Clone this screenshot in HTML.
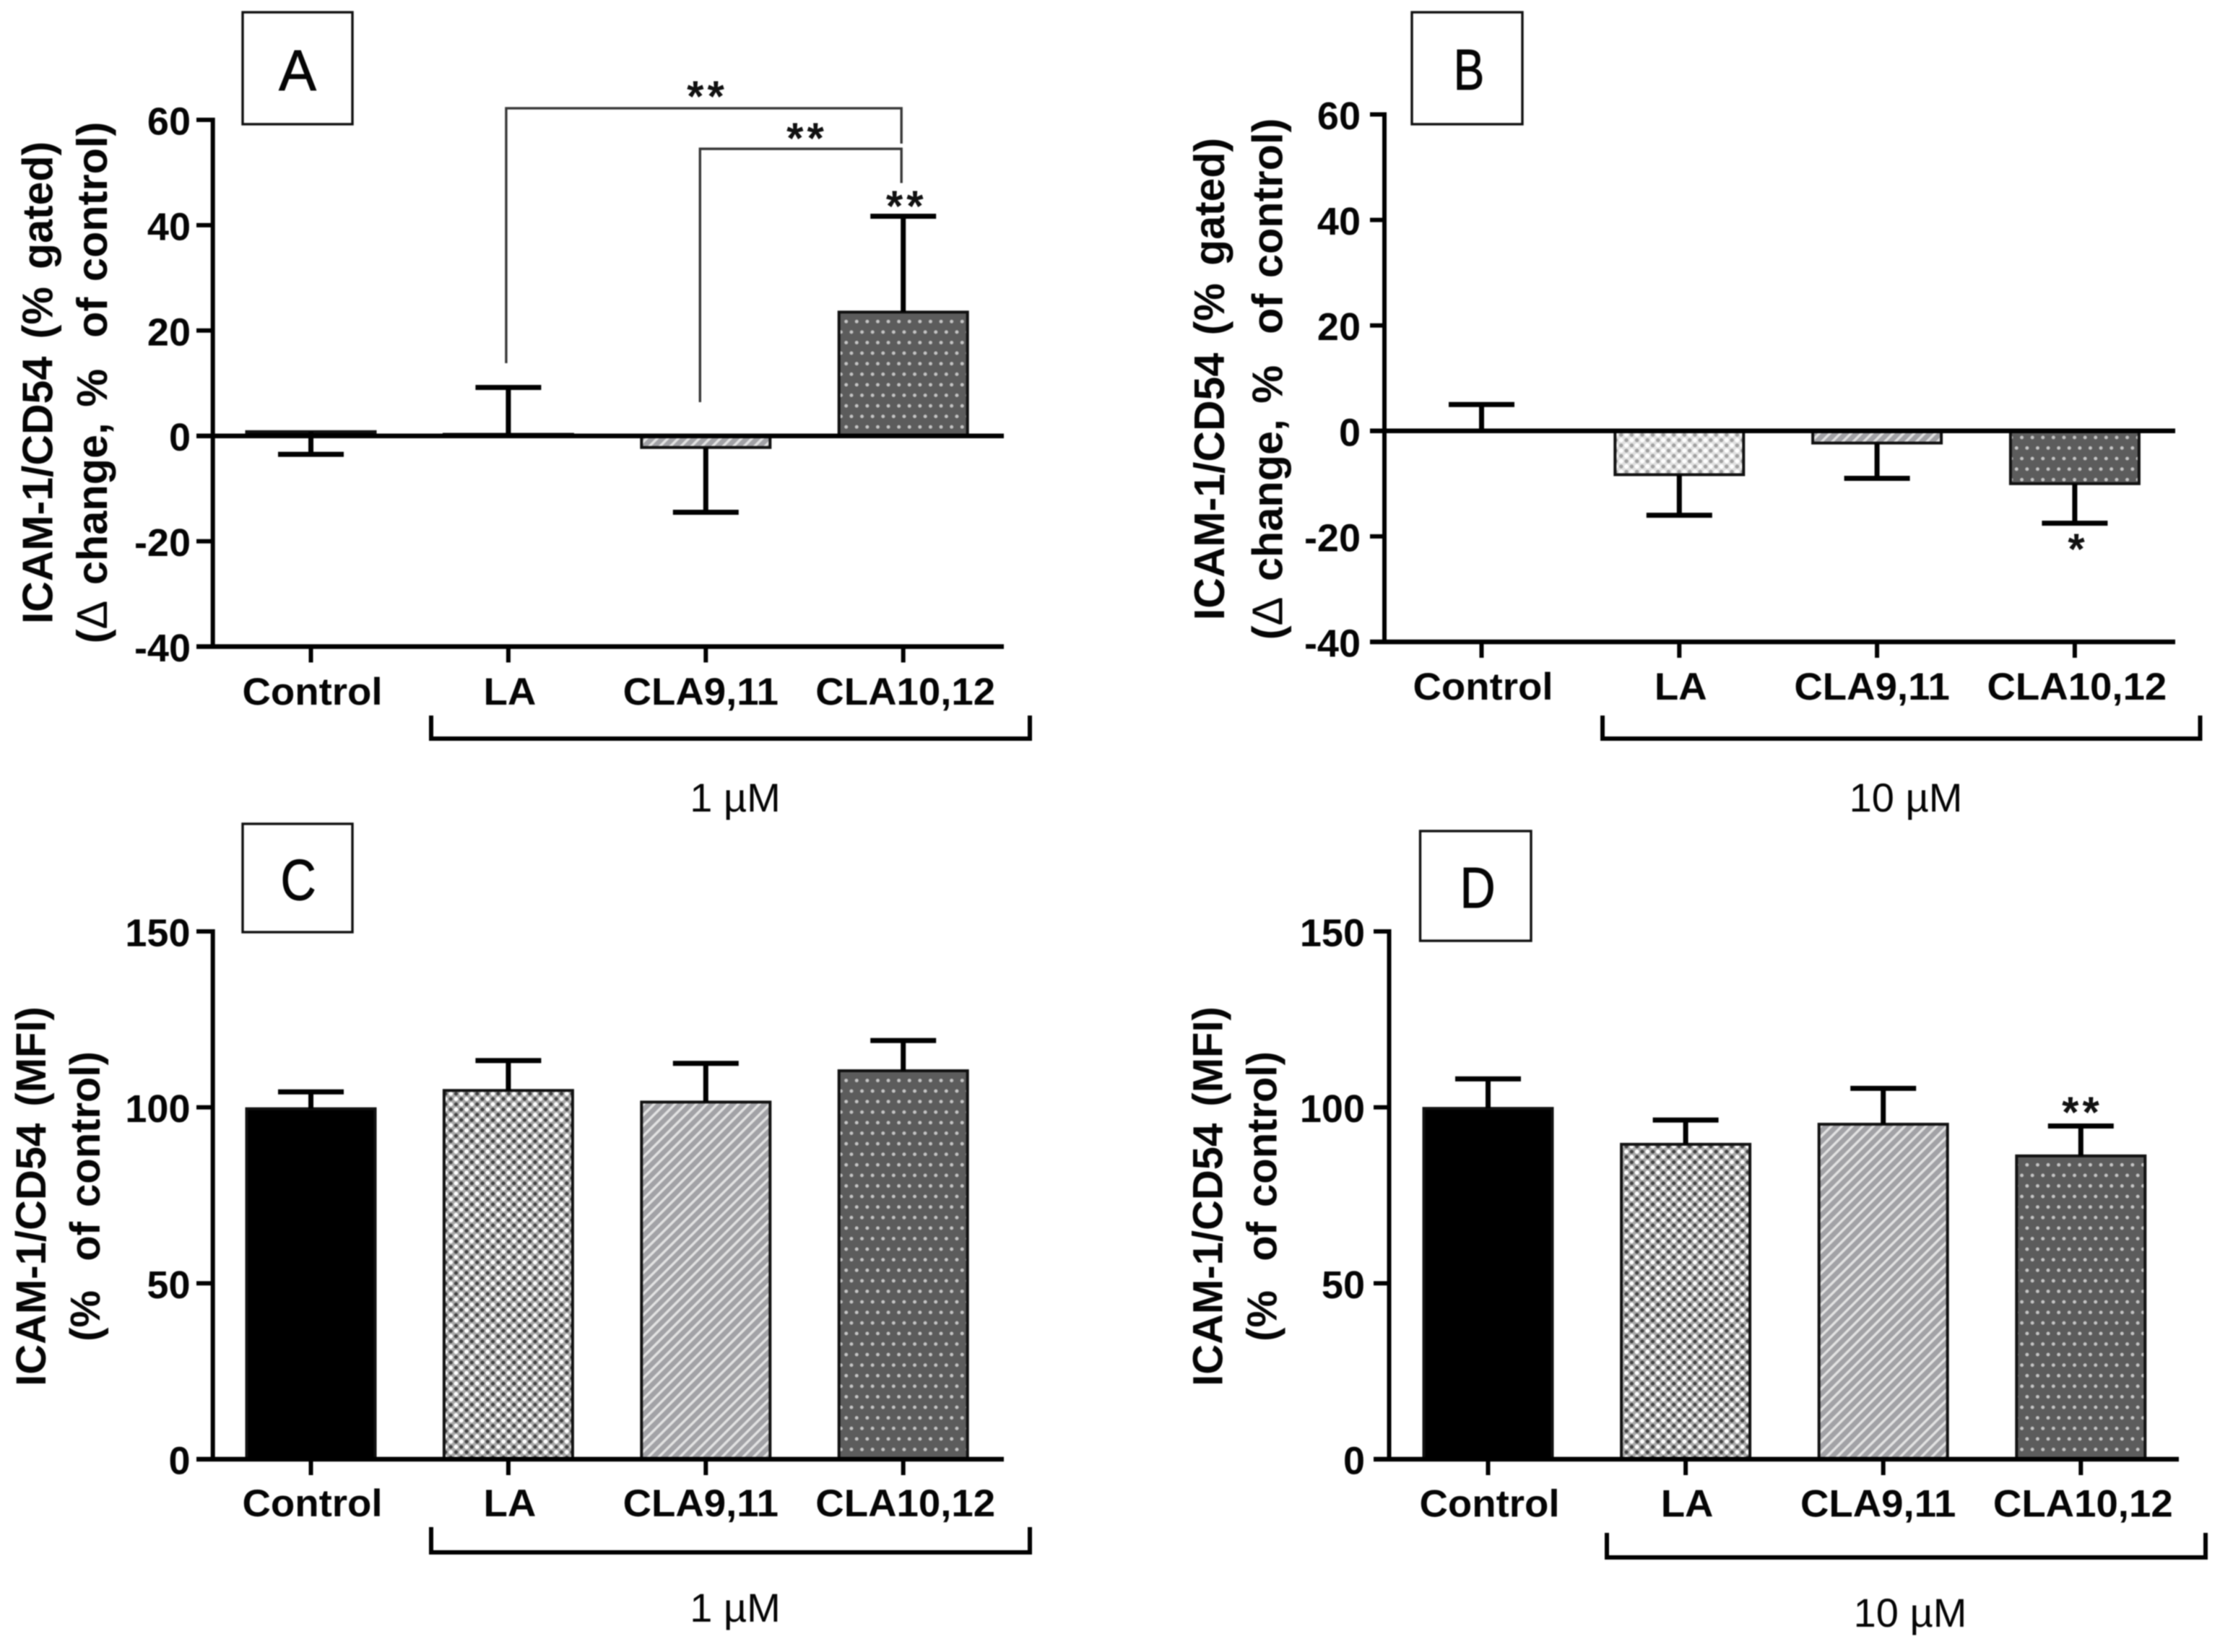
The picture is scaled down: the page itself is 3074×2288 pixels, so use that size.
<!DOCTYPE html>
<html lang="en">
<head>
<meta charset="utf-8">
<title>ICAM-1/CD54 bar charts</title>
<style>
  html, body { margin: 0; padding: 0; background: #fff; width: 3074px; height: 2288px; overflow: hidden; }
  svg { display: block; font-family: "Liberation Sans", Arial, sans-serif; }
  #content { filter: blur(0.9px); }
</style>
</head>
<body>
<svg id="figure" xmlns="http://www.w3.org/2000/svg" width="3074" height="2288" viewBox="0 0 3074 2288">
  <defs>
    <pattern id="pat-check" patternUnits="userSpaceOnUse" width="14.6" height="14.6" x="0" y="0">
      <rect width="14.6" height="14.6" fill="#a8a8a8"/>
      <circle cx="3.65" cy="3.65" r="2.9" fill="#ffffff"/>
      <circle cx="10.95" cy="10.95" r="2.9" fill="#ffffff"/>
      <circle cx="10.95" cy="3.65" r="2.6" fill="#444444"/>
      <circle cx="3.65" cy="10.95" r="2.6" fill="#444444"/>
    </pattern>
    <pattern id="pat-check-light" patternUnits="userSpaceOnUse" width="14.6" height="14.6">
      <rect width="14.6" height="14.6" fill="#e0e0e0"/>
      <circle cx="3.65" cy="3.65" r="3" fill="#ffffff"/>
      <circle cx="10.95" cy="10.95" r="3" fill="#ffffff"/>
      <circle cx="10.95" cy="3.65" r="2.7" fill="#a0a0a0"/>
      <circle cx="3.65" cy="10.95" r="2.7" fill="#a0a0a0"/>
    </pattern>
    <pattern id="pat-hatch" patternUnits="userSpaceOnUse" width="10.3" height="10.3" patternTransform="rotate(45)">
      <rect width="10.3" height="10.3" fill="#a2a2a6"/>
      <rect x="0" y="0" width="3.4" height="10.3" fill="#e2e2e2"/>
    </pattern>
    <pattern id="pat-dots" patternUnits="userSpaceOnUse" width="14.6" height="29.2">
      <rect width="14.6" height="29.2" fill="#5c5c5c"/>
      <circle cx="3.65" cy="7.3" r="2.5" fill="#c4c4c4"/>
      <circle cx="10.95" cy="21.9" r="2.5" fill="#c4c4c4"/>
    </pattern>
  </defs>
  <g id="content"></g>
</svg>
<script>
// ---- chart data ----
const categories = ['Control', 'LA', 'CLA9,11', 'CLA10,12'];

const tickLabelsGated = [60, 40, 20, 0, -20, -40];
const tickLabelsMfi = [150, 100, 50, 0];

const valuesA = [0.8, 0.3, -2.2, 23.5];
const errorEndsA = [-3.5, 9.2, -14.5, 41.7];

const valuesB = [0, -8.3, -2.3, -10];
const errorEndsB = [5, -16, -9, -17.5];

const valuesC = [99.6, 104.8, 101.5, 110.4];
const errorEndsC = [104.4, 113.3, 112.5, 119];

const valuesD = [99.7, 89.5, 95.2, 86.2];
const errorEndsD = [108.1, 96.4, 105.4, 94.7];

// ---- layout ----
const NS = 'http://www.w3.org/2000/svg';
const root = document.getElementById('content');
const labelOffsets = [2, 2, -7, 3];
const fillsDark = ['#000', 'url(#pat-check)', 'url(#pat-hatch)', 'url(#pat-dots)'];
const fillsLight = ['#000', 'url(#pat-check-light)', 'url(#pat-hatch)', 'url(#pat-dots)'];

function make(parent, tag, attrs) {
  const el = document.createElementNS(NS, tag);
  for (const k in attrs) el.setAttribute(k, attrs[k]);
  parent.appendChild(el);
  return el;
}

function line(parent, x1, y1, x2, y2, w, color) {
  return make(parent, 'line', { x1: x1, y1: y1, x2: x2, y2: y2, stroke: color || '#000', 'stroke-width': w });
}

function stretched(parent, x, y, str, size, anchor, weight, sx) {
  const el = make(parent, 'text', {
    transform: 'translate(' + x + ' ' + y + ') scale(' + sx + ' 1)',
    'font-size': size, 'text-anchor': anchor, 'font-weight': weight, fill: '#050505'
  });
  el.textContent = str;
  return el;
}

function drawPanel(p, values, errorEnds, ticks, fills) {
  const g = make(root, 'g', {});
  
  

  const maxV = ticks[0];
  const minV = ticks[ticks.length - 1];
  const yScale = v => p.yBottom - (v - minV) * (p.yBottom - p.yTop) / (maxV - minV);
  const xScale = i => p.firstX + i * p.pitch;

  // bars
  values.forEach((v, i) => {
    const y0 = yScale(0);
    const y1 = yScale(v);
    const bar = make(g, 'rect', {
      x: xScale(i) - 89, y: Math.min(y0, y1), width: 178, height: Math.abs(y1 - y0),
      fill: fills[i], stroke: '#111', 'stroke-width': 4
    });
    
    
  });

  // error bars
  errorEnds.forEach((e, i) => {
    const eg = make(g, 'g', {});
    
    
    line(eg, xScale(i), yScale(values[i]), xScale(i), yScale(e), 7);
    line(eg, xScale(i) - 45.5, yScale(e), xScale(i) + 45.5, yScale(e), 7);
  });

  // y axis
  const yAxis = make(g, 'g', {});
  
  
  line(yAxis, p.axisX, yScale(maxV) - 3, p.axisX, yScale(minV) + 3, 6);
  ticks.forEach(t => {
    line(yAxis, p.xStart, yScale(t), p.axisX, yScale(t), 6);
    const lab = stretched(yAxis, p.tickRight, yScale(t) + 20.5, String(t), 54, 'end', 700, 1);
    
    
  });

  // baseline at zero (panels with negative range) and bottom axis
  const xAxis = make(g, 'g', {});
  
  
  if (minV < 0) {
    line(xAxis, p.xStart, yScale(0), p.xEnd, yScale(0), 6.5);
  }
  line(xAxis, p.xStart, yScale(minV), p.xEnd, yScale(minV), 6.5);
  categories.forEach((c, i) => {
    line(xAxis, xScale(i), yScale(minV), xScale(i), yScale(minV) + 22, 6);
    const lab = stretched(xAxis, xScale(i) + labelOffsets[i], p.labelY, c, 53, 'middle', 700, 1.03);
    
    
  });

  // y titles
  p.titles.forEach((t, i) => {
    const el = make(g, 'text', {
      transform: 'translate(' + t.x + ' ' + p.titleY + ') rotate(-90)',
      'font-size': t.size, 'text-anchor': 'middle', 'font-weight': 700, fill: '#050505',
      'word-spacing': t.gap
    });
    el.innerHTML = t.html;
    
    
  });

  // group bracket + dose label
  const gb = p.group;
  const br = make(g, 'path', {
    d: 'M' + gb.left + ' ' + gb.top + 'V' + gb.bottom + 'H' + gb.right + 'V' + gb.top,
    fill: 'none', stroke: '#000', 'stroke-width': 6
  });
  
  
  const dose = stretched(g, gb.textX, gb.textY, gb.text, 56, 'middle', 400, 1);
  
  

  // panel letter box
  const b = p.box;
  const box = make(g, 'rect', { x: b.x, y: b.y, width: b.w, height: b.h, fill: '#fff', stroke: '#111', 'stroke-width': 3.4 });
  
  
  const letter = stretched(g, b.letterX, b.letterY, p.id, 80, 'middle', 400, b.letterScale);
  letter.setAttribute('stroke', '#050505');
  letter.setAttribute('stroke-width', '1');
  
  

  // significance brackets
  (p.brackets || []).forEach(s => {
    const path = make(g, 'path', {
      d: 'M' + (xScale(s.from) + s.dx) + ' ' + yScale(s.leftEnd) + 'V' + yScale(s.top) + 'H' + (xScale(s.to) - 2.5) + 'V' + yScale(s.rightEnd),
      fill: 'none', stroke: '#383838', 'stroke-width': 3.4
    });
    
    
  });

  // stars
  (p.stars || []).forEach(s => {
    const st = make(g, 'text', {
      x: s.x + 2.5, y: s.y + 27, 'font-size': 60, 'font-weight': 700, 'letter-spacing': 5, 'text-anchor': 'middle', fill: '#111'
    });
    st.textContent = s.text;
    
    
  });
}

const deltaLine = '(<tspan font-weight="400">\u0394</tspan> change, %\u00A0\u00A0of control)';
const gatedTitle = 'ICAM-1/CD54 (% gated)';
const mfiTitle = 'ICAM-1/CD54 (MFI)';
const pctLine = '(%\u00A0\u00A0of control)';

drawPanel({
  id: 'A', axisX: 294.7, yTop: 166, yBottom: 895.5, firstX: 430.5, pitch: 273.4, xStart: 272, xEnd: 1390,
  tickRight: 264, labelY: 976, titleY: 530,
  titles: [{ x: 72.5, size: 59, gap: 8, html: gatedTitle }, { x: 148, size: 59.5, gap: 5, html: deltaLine }],
  group: { left: 597, right: 1426, top: 991, bottom: 1023, textX: 1018, textY: 1124, text: '1 \u00B5M' },
  box: { x: 336, y: 17, w: 152, h: 155, letterX: 412, letterY: 125, letterScale: 0.97 },
  brackets: [
    { from: 1, to: 3, dx: -3, top: 62.2, leftEnd: 13.8, rightEnd: 55.5 },
    { from: 2, to: 3, dx: -8, top: 54.5, leftEnd: 6.4, rightEnd: 48 }
  ],
  stars: [{ x: 977, y: 127, text: '**' }, { x: 1115, y: 185, text: '**' }, { x: 1252.7, y: 279, text: '**' }]
}, valuesA, errorEndsA, tickLabelsGated, fillsDark);

drawPanel({
  id: 'B', axisX: 1917, yTop: 158.5, yBottom: 889, firstX: 2051.5, pitch: 273.8, xStart: 1897, xEnd: 3012,
  tickRight: 1884, labelY: 969, titleY: 525,
  titles: [{ x: 1695, size: 59, gap: 8, html: gatedTitle }, { x: 1775.5, size: 59.5, gap: 5, html: deltaLine }],
  group: { left: 2219, right: 3046.5, top: 991, bottom: 1023, textX: 2639, textY: 1124, text: '10 \u00B5M' },
  box: { x: 1955, y: 17, w: 153, h: 155, letterX: 2034, letterY: 124, letterScale: 0.8 },
  stars: [{ x: 2875, y: 754, text: '*' }]
}, valuesB, errorEndsB, tickLabelsGated, fillsLight);

drawPanel({
  id: 'C', axisX: 294.7, yTop: 1290, yBottom: 2021, firstX: 430.5, pitch: 273.4, xStart: 272, xEnd: 1390,
  tickRight: 263.5, labelY: 2100, titleY: 1657,
  titles: [{ x: 63, size: 58, gap: 7, html: mfiTitle }, { x: 138, size: 58, gap: 4, html: pctLine }],
  group: { left: 597, right: 1426, top: 2115, bottom: 2150, textX: 1018, textY: 2246, text: '1 \u00B5M' },
  box: { x: 336, y: 1141, w: 152, h: 150, letterX: 413, letterY: 1246, letterScale: 0.85 }
}, valuesC, errorEndsC, tickLabelsMfi, fillsDark);

drawPanel({
  id: 'D', axisX: 1923.5, yTop: 1290, yBottom: 2021, firstX: 2060.5, pitch: 273.6, xStart: 1902, xEnd: 3017,
  tickRight: 1890, labelY: 2100.5, titleY: 1657,
  titles: [{ x: 1692.5, size: 58, gap: 7, html: mfiTitle }, { x: 1767.5, size: 58, gap: 4, html: pctLine }],
  group: { left: 2225, right: 3054, top: 2123, bottom: 2157, textX: 2645, textY: 2253, text: '10 \u00B5M' },
  box: { x: 1966.5, y: 1151, w: 153.5, h: 152, letterX: 2046, letterY: 1257, letterScale: 0.85 },
  stars: [{ x: 2881, y: 1534, text: '**' }]
}, valuesD, errorEndsD, tickLabelsMfi, fillsDark);
</script>
</body>
</html>
